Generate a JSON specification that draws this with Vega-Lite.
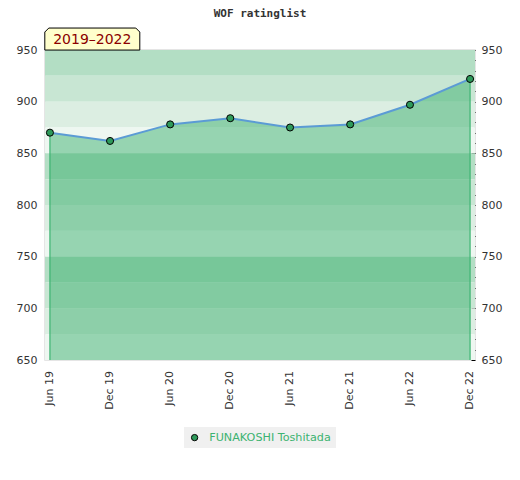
{
  "$schema": "https://vega.github.io/schema/vega-lite/v6.json",
  "width": 430,
  "height": 310,
  "autosize": {"type": "none"},
  "padding": {"left": 45, "top": 50, "right": 45, "bottom": 120},
  "title": {
    "text": "WOF ratinglist",
    "font": "DejaVu Sans Mono",
    "fontSize": 11,
    "fontWeight": "bold",
    "color": "#333333",
    "anchor": "middle",
    "offset": 8,
    "dy": 1
  },
  "config": {
    "view": {"stroke": "#dddddd", "strokeWidth": 1.5},
    "axis": {"labelFont": "DejaVu Sans", "labelFontSize": 11, "labelColor": "#333333", "grid": false, "domain": false}
  },
  "datasets": {
    "ratings": [
      {"date": "2019-06-01", "period": "Jun 19", "rating": 870, "player": "FUNAKOSHI Toshitada"},
      {"date": "2019-12-01", "period": "Dec 19", "rating": 862, "player": "FUNAKOSHI Toshitada"},
      {"date": "2020-06-01", "period": "Jun 20", "rating": 878, "player": "FUNAKOSHI Toshitada"},
      {"date": "2020-12-01", "period": "Dec 20", "rating": 884, "player": "FUNAKOSHI Toshitada"},
      {"date": "2021-06-01", "period": "Jun 21", "rating": 875, "player": "FUNAKOSHI Toshitada"},
      {"date": "2021-12-01", "period": "Dec 21", "rating": 878, "player": "FUNAKOSHI Toshitada"},
      {"date": "2022-06-01", "period": "Jun 22", "rating": 897, "player": "FUNAKOSHI Toshitada"},
      {"date": "2022-12-01", "period": "Dec 22", "rating": 922, "player": "FUNAKOSHI Toshitada"}
    ],
    "bands": [
      {"lo": 925, "hi": 950, "shade": "a"},
      {"lo": 900, "hi": 925, "shade": "b"},
      {"lo": 875, "hi": 900, "shade": "c"},
      {"lo": 850, "hi": 875, "shade": "d"},
      {"lo": 825, "hi": 850, "shade": "a"},
      {"lo": 800, "hi": 825, "shade": "b"},
      {"lo": 775, "hi": 800, "shade": "c"},
      {"lo": 750, "hi": 775, "shade": "d"},
      {"lo": 725, "hi": 750, "shade": "a"},
      {"lo": 700, "hi": 725, "shade": "b"},
      {"lo": 675, "hi": 700, "shade": "c"},
      {"lo": 650, "hi": 675, "shade": "d"}
    ],
    "badge": [{"label": "2019–2022"}]
  },
  "resolve": {"axis": {"y": "independent"}},
  "layer": [
    {
      "data": {"name": "bands"},
      "mark": {"type": "rect"},
      "encoding": {
        "y": {"field": "lo", "type": "quantitative", "scale": {"domain": [650, 950], "nice": false, "zero": false}, "axis": null},
        "y2": {"field": "hi"},
        "fill": {"field": "shade", "type": "nominal", "scale": {"domain": ["a", "b", "c", "d"], "range": ["#b3dec4", "#c8e6d3", "#dceee2", "#eef7f1"]}, "legend": null}
      }
    },
    {
      "data": {"name": "ratings"},
      "mark": {"type": "area", "color": "#36ad6a", "opacity": 0.48},
      "encoding": {
        "x": {"field": "date", "type": "temporal", "scale": {"type": "utc", "domain": [1558051200000, 1671148800000]}, "axis": null},
        "y": {"field": "rating", "type": "quantitative", "axis": null},
        "y2": {"datum": 650}
      }
    },
    {
      "data": {"name": "ratings"},
      "transform": [{"filter": "time(datum.date) == time('2019-06-01') || time(datum.date) == time('2022-12-01')"}],
      "mark": {"type": "rule", "color": "#3cb371", "strokeWidth": 1.2},
      "encoding": {
        "x": {"field": "date", "type": "temporal", "axis": null},
        "y": {"field": "rating", "type": "quantitative", "axis": null},
        "y2": {"datum": 650}
      }
    },
    {
      "data": {"name": "ratings"},
      "mark": {"type": "line", "color": "#5b9bd5", "strokeWidth": 2},
      "encoding": {
        "x": {"field": "date", "type": "temporal", "axis": null},
        "y": {
          "field": "rating", "type": "quantitative", "title": null,
          "axis": {"orient": "left", "values": [650, 700, 750, 800, 850, 900, 950], "ticks": false, "labelPadding": 8, "labelOverlap": false, "labelFlush": false}
        }
      }
    },
    {
      "data": {"name": "ratings"},
      "mark": {"type": "point", "filled": true, "size": 50, "stroke": "#000000", "strokeWidth": 1, "opacity": 1},
      "encoding": {
        "x": {"field": "date", "type": "temporal", "axis": null},
        "y": {
          "field": "rating", "type": "quantitative", "title": null,
          "axis": {
            "orient": "right",
            "values": [650, 660, 670, 680, 690, 700, 710, 720, 730, 740, 750, 760, 770, 780, 790, 800, 810, 820, 830, 840, 850, 860, 870, 880, 890, 900, 910, 920, 930, 940, 950],
            "labelExpr": "datum.value % 50 == 0 ? datum.label : ''",
            "ticks": true, "tickSize": -4, "tickColor": "#000000", "tickWidth": 1,
            "labelPadding": 10, "labelOverlap": false, "labelFlush": false
          }
        },
        "color": {
          "field": "player", "type": "nominal",
          "scale": {"range": ["#2e9a5a"]},
          "legend": {
            "title": null, "orient": "none", "legendX": 139, "legendY": 377,
            "fillColor": "#f0f0f0", "padding": 5,
            "symbolType": "circle", "symbolSize": 40, "symbolStrokeColor": "#000000", "symbolStrokeWidth": 1,
            "labelOffset": 9,
            "labelColor": "#3cb371", "labelFont": "DejaVu Sans", "labelFontSize": 11.2
          }
        }
      }
    },
    {
      "data": {"name": "ratings"},
      "mark": {"type": "text", "angle": 270, "align": "right", "baseline": "middle", "font": "DejaVu Sans", "fontSize": 11, "color": "#333333", "yOffset": 11},
      "encoding": {
        "x": {"field": "date", "type": "temporal", "axis": null},
        "y": {"datum": 650, "type": "quantitative", "axis": null},
        "text": {"field": "period", "type": "nominal"}
      }
    },
    {
      "data": {"name": "badge"},
      "mark": {"type": "point", "filled": true, "fill": "#ffffcc", "stroke": "#000000", "strokeWidth": 1, "opacity": 1, "size": 9025,
        "shape": "M-1,0.2316L-1,-0.1474L-0.9158,-0.2316L0.9158,-0.2316L1,-0.1474L1,0.2316Z"},
      "encoding": {
        "x": {"datum": 1570492800000, "type": "temporal", "axis": null},
        "y": {"datum": 960.6, "type": "quantitative", "axis": null}
      }
    },
    {
      "data": {"name": "badge"},
      "mark": {"type": "text", "font": "DejaVu Sans", "fontSize": 14, "color": "#8b0000", "align": "center", "baseline": "middle", "dy": 1},
      "encoding": {
        "x": {"datum": 1570492800000, "type": "temporal", "axis": null},
        "y": {"datum": 960.6, "type": "quantitative", "axis": null},
        "text": {"field": "label"}
      }
    }
  ]
}
